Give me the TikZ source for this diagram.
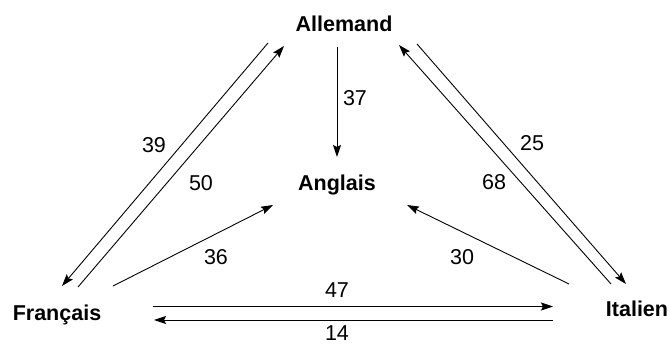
\documentclass[tikz,border=0pt]{standalone}
\usepackage{fontspec}
\setmainfont{Liberation Sans}
\usetikzlibrary{arrows.meta}
\begin{document}
\begin{tikzpicture}[x=1pt,y=-1pt,
  lang/.style={font=\fontsize{21.5}{24}\selectfont\bfseries, anchor=base, inner sep=0pt},
  num/.style={font=\fontsize{21.5}{24}\selectfont, anchor=base, inner sep=0pt},
  flow/.style={line width=0.9pt, -{Stealth[length=12pt,width=8pt,inset=2pt]}}]
\useasboundingbox (0,0) rectangle (670,347);
% language nodes
\node[lang] (de) at (344,31.5) {Allemand};
\node[lang] (en) at (337,191) {Anglais};
\node[lang] (fr) at (57,321) {Français};
\node[lang] (it) at (637,317) {Italien};
% connector end points
\coordinate (deA) at (268,43);  \coordinate (frA) at (62,286);
\coordinate (frB) at (78,287);  \coordinate (deB) at (284,46);
\coordinate (frC) at (113,286); \coordinate (enC) at (273,205);
\coordinate (deD) at (337,47);  \coordinate (enD) at (337,157);
\coordinate (deE) at (417,44);  \coordinate (itE) at (626,284);
\coordinate (itF) at (611,284); \coordinate (deF) at (399,45);
\coordinate (itG) at (569,284); \coordinate (enG) at (407,205);
\coordinate (frH) at (153,306.5); \coordinate (itH) at (553,306.5);
\coordinate (itI) at (553,320); \coordinate (frI) at (154,320);
% connectors
\draw[flow] (deA) -- (frA);
\draw[flow] (frB) -- (deB);
\draw[flow] (frC) -- (enC);
\draw[flow] (deD) -- (enD);
\draw[flow] (deE) -- (itE);
\draw[flow] (itF) -- (deF);
\draw[flow] (itG) -- (enG);
\draw[flow] (frH) -- (itH);
\draw[flow] (itI) -- (frI);
% labels
\node[num] (n37) at (355,106) {37};
\node[num] (n39) at (154,153) {39};
\node[num] (n50) at (201,191) {50};
\node[num] (n25) at (532,151) {25};
\node[num] (n68) at (494,190) {68};
\node[num] (n36) at (216,265) {36};
\node[num] (n30) at (462,265) {30};
\node[num] (n47) at (337,298) {47};
\node[num] (n14) at (337,341) {14};
\end{tikzpicture}
\end{document}
